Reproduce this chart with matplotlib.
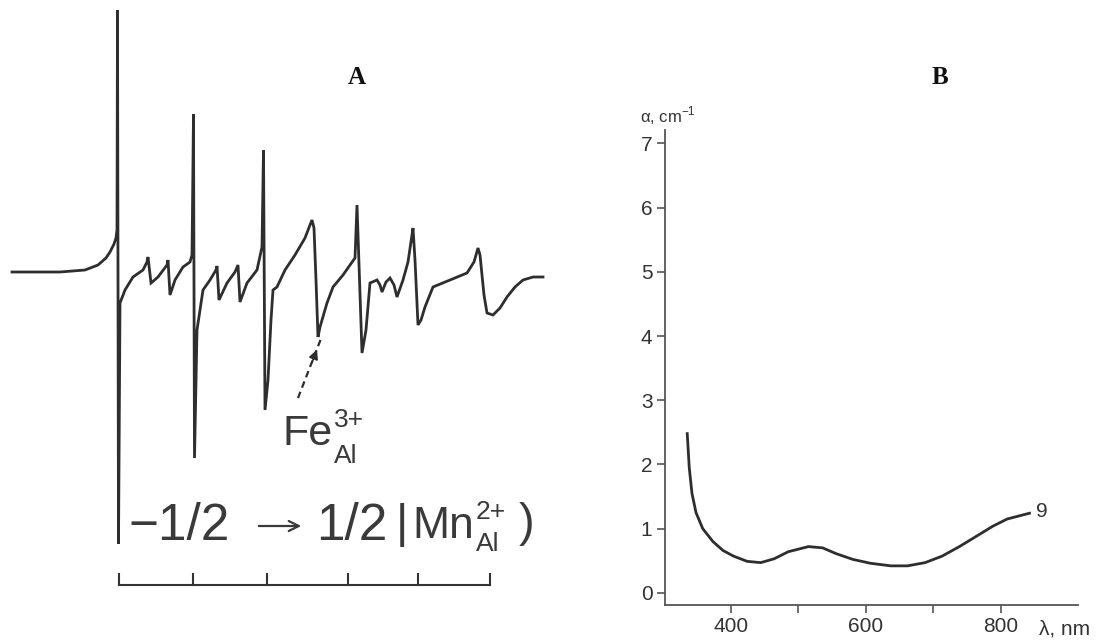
import matplotlib
matplotlib.use("Agg")
import matplotlib.pyplot as plt

# ---------------- data ----------------
# Panel A: EPR spectrum (field position, arbitrary units; signal, arbitrary units)
epr_field = [12, 60, 85, 98, 106, 110, 114, 116, 117, 117.5, 118.5, 120, 125, 133, 143, 147, 148,
             151, 158, 167, 168, 170, 175, 183, 190, 192, 193.5, 194.5, 197, 203, 210, 216, 217,
             219, 227, 235, 238, 240, 247, 257, 262, 263.5, 265, 268, 271, 273, 277, 285, 295,
             305, 310, 312, 314, 316, 318, 320, 327, 333, 343, 350, 355, 357, 362, 366, 370, 377,
             380, 382, 386, 390, 394, 397, 403, 408, 412, 413, 415, 418, 421, 425, 433, 450, 467,
             474, 478, 480, 484, 487, 493, 500, 507, 515, 523, 533, 543]
epr_signal = [0, 0, 2, 7, 14, 20, 28, 34, 42, 262, -272, -31, -18, -5, 2, 10, 15,
              -11, -5, 7, 12, -23, -8, 5, 10, 17, 158, -186, -58, -18, -8, 2, 6,
              -28, -11, 0, 7, -30, -11, 2, 25, 122, -138, -108, -48, -18, -15, 2, 17,
              34, 47, 52, 44, -8, -65, -55, -31, -15, -3, 7, 14, 67, -81, -58, -11, -8,
              -13, -20, -10, -6, -13, -25, -8, 10, 37, 44, 12, -53, -48, -35, -15, -8, -1,
              10, 24, 17, -23, -41, -43, -36, -25, -15, -8, -5, -5]
scale_ticks = [119, 193, 267, 348, 418, 490]

# Panel B: absorption coefficient vs wavelength (curve 9)
wavelength_nm = [335, 338, 342, 348, 358, 373, 388, 404, 424, 444, 464, 485, 515, 536, 556,
                 581, 607, 637, 662, 688, 713, 739, 764, 789, 810, 843]
alpha_cm = [2.48, 1.95, 1.55, 1.25, 1.00, 0.80, 0.66, 0.57, 0.49, 0.47, 0.53, 0.64, 0.72, 0.70,
            0.61, 0.52, 0.46, 0.42, 0.42, 0.47, 0.57, 0.72, 0.88, 1.04, 1.15, 1.24]
y_ticks_b = [0, 1, 2, 3, 4, 5, 6, 7]
x_ticks_b = [400, 500, 600, 700, 800]
x_ticklabels_b = ["400", "", "600", "", "800"]

# ---------------- figure ----------------
W, H = 1100, 643
fig = plt.figure(figsize=(W / 100, H / 100), dpi=100)
fig.patch.set_facecolor("white")
sans = "Liberation Sans"
serif = "Liberation Serif"
plt.rcParams["mathtext.fontset"] = "custom"
plt.rcParams["mathtext.rm"] = sans

line_col = "#2e2e2e"

# ---- Panel A ----
axA = fig.add_axes([0, 0, 560 / W, 1])
axA.set_xlim(0, 560)
axA.set_ylim(272 - 643, 272)
axA.axis("off")
axA.plot(epr_field, epr_signal, color=line_col, lw=2.0, solid_joinstyle="miter")


def py(ypix):
    return 272 - ypix


axA.text(357, py(78), "A", fontfamily=serif, fontweight="bold", fontsize=18,
         ha="center", va="center", color="#111111")

# scale bar
ybar = 585
axA.plot([scale_ticks[0], scale_ticks[-1]], [py(ybar), py(ybar)], color="#333333", lw=1.5)
for t in scale_ticks:
    axA.plot([t, t], [py(ybar), py(ybar - 11)], color="#333333", lw=1.5)

# Fe label with dashed arrow
axA.plot([298, 322], [py(398), py(336)], color=line_col, lw=1.6, ls=(0, (3, 2)))
axA.annotate("", xy=(318, py(347)), xytext=(311, py(365)),
             arrowprops=dict(arrowstyle="-|>", color=line_col, lw=1.2, mutation_scale=14))
tc = "#3a3a3a"
axA.text(283, py(434), "Fe", fontfamily=sans, fontsize=31, ha="left", va="center", color=tc)
axA.text(334, py(420), "3+", fontfamily=sans, fontsize=19, ha="left", va="center", color=tc)
axA.text(334, py(456), "Al", fontfamily=sans, fontsize=19, ha="left", va="center", color=tc)

# transition label
yr = 526
yrow = py(yr)
axA.text(128, yrow, "\u22121/2", fontfamily=sans, fontsize=37, ha="left", va="center", color=tc)
axA.annotate("", xy=(304, yrow), xytext=(256, yrow),
             arrowprops=dict(arrowstyle="->", color=tc, lw=1.6, mutation_scale=18))
axA.text(316, yrow, "1/2", fontfamily=sans, fontsize=37, ha="left", va="center", color=tc)
axA.text(396, yrow + 1, "|", fontfamily=sans, fontsize=34, ha="left", va="center", color=tc)
axA.text(412, yrow, "Mn", fontfamily=sans, fontsize=32, ha="left", va="center", color=tc)
axA.text(476, py(yr - 14), "2+", fontfamily=sans, fontsize=19, ha="left", va="center", color=tc)
axA.text(476, py(yr + 18), "Al", fontfamily=sans, fontsize=19, ha="left", va="center", color=tc)
axA.text(519, yrow + 2, ")", fontfamily=sans, fontsize=34, ha="left", va="center", color=tc)

# ---- Panel B ----
x0, x1 = 665, 1078
y_top, y_bot = 130, 605
axB = fig.add_axes([x0 / W, 1 - y_bot / H, (x1 - x0) / W, (y_bot - y_top) / H])
axB.plot(wavelength_nm, alpha_cm, color=line_col, lw=2.0)
axB.set_xlim(302, 915)
axB.set_ylim(-0.19, 7.21)
for s in ["top", "right"]:
    axB.spines[s].set_visible(False)
for s in ["left", "bottom"]:
    axB.spines[s].set_color("#555555")
    axB.spines[s].set_linewidth(1.3)
axB.set_yticks(y_ticks_b)
axB.set_yticklabels([str(v) for v in y_ticks_b])
axB.set_xticks(x_ticks_b)
axB.set_xticklabels(x_ticklabels_b)
axB.tick_params(axis="both", direction="out", length=6, width=1.2, color="#555555",
                labelcolor="#333333", labelsize=15, pad=3)
for lab in axB.get_xticklabels() + axB.get_yticklabels():
    lab.set_fontfamily(sans)
axB.patch.set_alpha(0)

axB.text(843 + 10, 1.26, "9", fontfamily=sans, fontsize=15, ha="left", va="center", color="#333333")
fig.text(940 / W, 1 - 78 / H, "B", fontfamily=serif, fontweight="bold", fontsize=18,
         ha="center", va="center", color="#111111")
fig.text(668 / W, 1 - 116 / H, "\u03b1, cm$^{-1}$", fontfamily=sans, fontsize=12,
         ha="center", va="center", color="#333333")
fig.text(1065 / W, 1 - 629 / H, "\u03bb, nm", fontfamily=sans, fontsize=15,
         ha="center", va="center", color="#333333")

fig.savefig("out.png", dpi=100, facecolor="white")
